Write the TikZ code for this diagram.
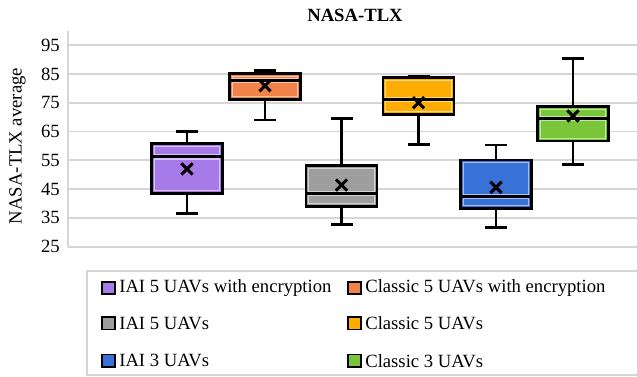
\documentclass[tikz,border=0pt]{standalone}
\usepackage{fontspec}
\setmainfont{Liberation Serif}
\usetikzlibrary{positioning}

\definecolor{gridgray}{RGB}{214,214,214}
\definecolor{purplebox}{RGB}{166,122,232}
\definecolor{orangebox}{RGB}{240,130,74}
\definecolor{graybox}{RGB}{158,158,158}
\definecolor{yellowbox}{RGB}{255,172,0}
\definecolor{bluebox}{RGB}{56,114,216}
\definecolor{greenbox}{RGB}{122,198,58}

% #1 centre, #2 colour, #3 min, #4 q1, #5 median, #6 q3, #7 max, #8 mean
\newcommand{\uavbox}[8]{%
  \draw[whisker] (#1,#3) -- (#1,#4) (#1,#6) -- (#1,#7);
  \draw[whisker] (#1-11,#3) -- (#1+11,#3) (#1-11,#7) -- (#1+11,#7);
  \draw[boxline, fill=#2] (#1-35.5,#4) rectangle (#1+35.5,#6);
  \draw[#2!45!white, line width=0.8pt] (#1-32.6,#4+1) rectangle (#1+32.6,#6-1);
  \draw[#2!45!white, line width=4pt] (#1-32.6,#5) -- (#1+32.6,#5);
  \draw[boxline] (#1-35.5,#5) -- (#1+35.5,#5);
  \draw[meanmark] (#1,#8) ++(-4.2pt,-4.2pt) -- ++(8.4pt,8.4pt)
                  (#1,#8) ++(-4.2pt,4.2pt) -- ++(8.4pt,-8.4pt);
}

\begin{document}
\begin{tikzpicture}[x=0.75pt,y=0.75pt,
                    font=\fontsize{14}{16}\selectfont]
	  \tikzstyle{whisker}=[draw=black,line width=2pt]
	  \tikzstyle{boxline}=[draw=black,line width=2.2pt]
	  \tikzstyle{meanmark}=[draw=black,line width=2.3pt]
	  \tikzstyle{grid}=[draw=gridgray,line width=1.3pt]
	  \tikzstyle{ticklabel}=[anchor=east,inner sep=0pt]
	  \tikzstyle{swatch}=[draw=black,line width=1.3pt,minimum size=9.5pt,inner sep=0pt]
	  \tikzstyle{legtext}=[anchor=west,inner sep=0pt]

	  \useasboundingbox (0,0) rectangle (637,376);

	  \node[font=\fontsize{14}{16}\selectfont\bfseries] (title) at (355,361) {NASA-TLX};
	  \node[rotate=90] (ylabel) at (17.5,230) {NASA-TLX average};

	  % data part: one y unit is one NASA-TLX point
	  \begin{scope}[y=2.16pt,yshift=42.975pt]
	    \foreach \v in {25,35,...,95} {
	      \draw[grid] (68,\v) -- (640,\v);
	      \node[ticklabel] (tick\v) at (60,\v) {\v};
	    }
	    \draw[grid] (68,25) -- (68,100);

	    \uavbox{187}{purplebox}{36.6}{43.5}{56.2}{60.9}{65}{52}
	    \uavbox{265}{orangebox}{69}{76.2}{82.6}{85}{86.1}{80.9}
	    \uavbox{341.5}{graybox}{32.8}{39.1}{43.5}{53.1}{69.6}{46.4}
	    \uavbox{418.5}{yellowbox}{60.6}{71}{76.2}{83.7}{84.3}{75}
	    \uavbox{496}{bluebox}{31.6}{38.3}{42.4}{55.1}{60.3}{45.6}
	    \uavbox{573}{greenbox}{53.6}{61.7}{69.6}{73.6}{90.4}{70.4}
	  \end{scope}

	  % legend
	  \draw[gridgray,line width=1.2pt] (86.7,1) rectangle (645,105.3);
	  \node[swatch,fill=purplebox] (s1) at (108.5,88) {};
	  \node[swatch,fill=graybox]   (s2) [below=15.5pt of s1] {};
	  \node[swatch,fill=bluebox]   (s3) [below=17.5pt of s2] {};
	  \node[swatch,fill=orangebox] (s4) at (354.5,88) {};
	  \node[swatch,fill=yellowbox] (s5) [below=15.5pt of s4] {};
	  \node[swatch,fill=greenbox]  (s6) [below=17.5pt of s5] {};

	  \node[legtext] (t1) [right=2.5pt of s1] {IAI 5 UAVs with encryption};
	  \node[legtext] (t2) [right=2.5pt of s2] {IAI 5 UAVs};
	  \node[legtext] (t3) [right=2.5pt of s3] {IAI 3 UAVs};
	  \node[legtext] (t4) [right=2.5pt of s4] {Classic 5 UAVs with encryption};
	  \node[legtext] (t5) [right=2.5pt of s5] {Classic 5 UAVs};
	  \node[legtext] (t6) [right=2.5pt of s6] {Classic 3 UAVs};
	\end{tikzpicture}
\end{document}
